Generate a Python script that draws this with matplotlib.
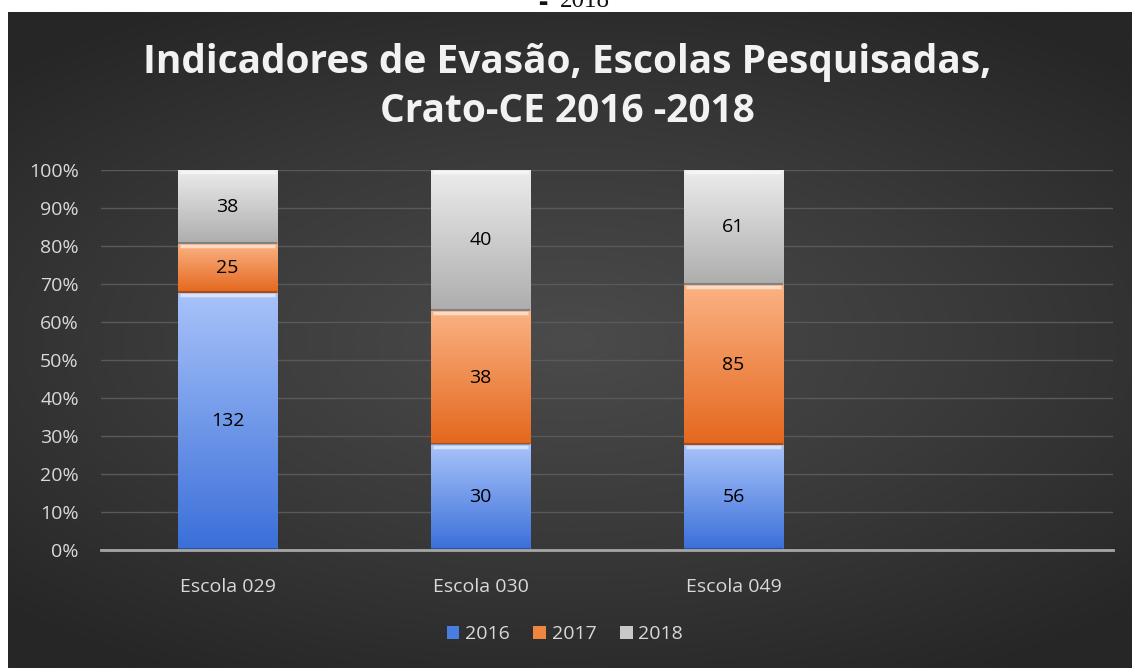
import numpy as np
import matplotlib.pyplot as plt
from matplotlib.colors import LinearSegmentedColormap
from matplotlib.patches import Patch

# dados (valores absolutos de evasão)
escolas = ['Escola 029', 'Escola 030', 'Escola 049']
anos = ['2016', '2017', '2018']
v2016 = [132, 30, 56]
v2017 = [25, 38, 85]
v2018 = [38, 40, 61]

# cores (claro no topo, escuro na base)
cores = {
    '2016': ('#a9c3fa', '#3a6fd9'),
    '2017': ('#fbb283', '#e4671d'),
    '2018': ('#ececec', '#adadad'),
}
leg_cores = {'2016': '#4a7de0', '2017': '#ee8540', '2018': '#c8c8c8'}

plt.rcParams['font.family'] = ['Open Sans', 'DejaVu Sans']

W, H = 1132, 668
fig = plt.figure(figsize=(W / 100, H / 100), dpi=100)
fig.patch.set_facecolor('white')

# texto cortado no topo
fig.text(543 / W, 1 - 6 / H, '\u25ac', family=['DejaVu Sans'],
         fontsize=7, color='#111111', ha='center', va='baseline')
fig.text(585 / W, 1 - 7 / H, '2018', family=['Liberation Serif', 'DejaVu Serif'],
         fontsize=18, color='#111111', ha='center', va='baseline')

# fundo escuro com gradiente radial
bg = fig.add_axes([8 / W, 0, 1 - 8 / W, 1 - 12 / H])
bg.set_axis_off()
yy, xx = np.mgrid[-1:1:300j, -1:1:500j]
r = np.sqrt((xx * 0.9) ** 2 + (yy * 1.1) ** 2)
bg_cmap = LinearSegmentedColormap.from_list('bg', ['#4b4b4b', '#3a3a3a', '#262626'])
bg.imshow(r, cmap=bg_cmap, aspect='auto', extent=(0, 1, 0, 1), vmin=0, vmax=1.3)
bg.set_xlim(0, 1)
bg.set_ylim(0, 1)

ax = fig.add_axes([101 / W, (H - 550) / H, (1113 - 101) / W, 380 / H])
ax.set_facecolor('none')

totais = np.array(v2016) + np.array(v2017) + np.array(v2018)
x = np.arange(len(escolas))
largura = 0.395
base = np.zeros(len(escolas))
grad = np.linspace(0, 1, 256).reshape(-1, 1)

for ano, vals in zip(anos, [v2016, v2017, v2018]):
    frac = np.array(vals) / totais
    bars = ax.bar(x, frac, largura, bottom=base, color='none', edgecolor='none', zorder=3)
    cmap = LinearSegmentedColormap.from_list(ano, [cores[ano][1], cores[ano][0]])
    for b, v, f, b0 in zip(bars, vals, frac, base):
        x0, y0 = b.get_x(), b.get_y()
        x1, y1 = x0 + b.get_width(), y0 + b.get_height()
        im = ax.imshow(grad, cmap=cmap, aspect='auto', origin='lower',
                       extent=(x0, x1, y0, y1), zorder=3)
        im.set_clip_path(b)
        # bisel superior e inferior
        ax.plot([x0 + 0.01, x1 - 0.01], [y1 - 0.006, y1 - 0.006], color='white', alpha=0.55,
                lw=2.5, zorder=4, solid_capstyle='butt')
        ax.plot([x0, x1], [y0 + 0.002, y0 + 0.002], color='black', alpha=0.25,
                lw=1.5, zorder=4, solid_capstyle='butt')
        ax.text(b.get_x() + b.get_width() / 2, b0 + f / 2, str(v),
                ha='center', va='center', fontsize=14, color='black', zorder=5)
    base = base + frac

ax.set_xlim(-0.5, 3.5)
ax.set_ylim(0, 1)
ax.set_yticks(np.arange(0, 1.01, 0.1))
ax.set_yticklabels([f'{int(round(t * 100))}%' for t in np.arange(0, 1.01, 0.1)])
ax.set_xticks(x)
ax.set_xticklabels(escolas)
ax.tick_params(axis='both', length=0, colors='#d9d9d9', labelsize=14)
ax.tick_params(axis='x', pad=20)
ax.tick_params(axis='y', pad=16)
ax.grid(axis='y', color='#595959', lw=1, zorder=0)
for s in ['top', 'right', 'left']:
    ax.spines[s].set_visible(False)
ax.spines['bottom'].set_color('#a6a6a6')
ax.spines['bottom'].set_linewidth(2)
ax.spines['bottom'].set_zorder(6)

fig.text(567 / W, 1 - 62 / H, 'Indicadores de Evasão, Escolas Pesquisadas,',
         ha='center', va='center', fontsize=28, fontweight='bold', color='#f2f2f2')
fig.text(567 / W, 1 - 111 / H, 'Crato-CE 2016 -2018',
         ha='center', va='center', fontsize=28, fontweight='bold', color='#f2f2f2')

handles = [Patch(facecolor=leg_cores[a], edgecolor='none', label=a) for a in anos]
leg = fig.legend(handles=handles, loc='center', bbox_to_anchor=(565 / W, 1 - 634 / H),
                 ncol=3, frameon=False, fontsize=14, handlelength=0.65, handleheight=0.65,
                 handletextpad=0.3, columnspacing=1.2)
for t in leg.get_texts():
    t.set_color('#d9d9d9')

fig.savefig('out.png', dpi=100, facecolor=fig.get_facecolor())
